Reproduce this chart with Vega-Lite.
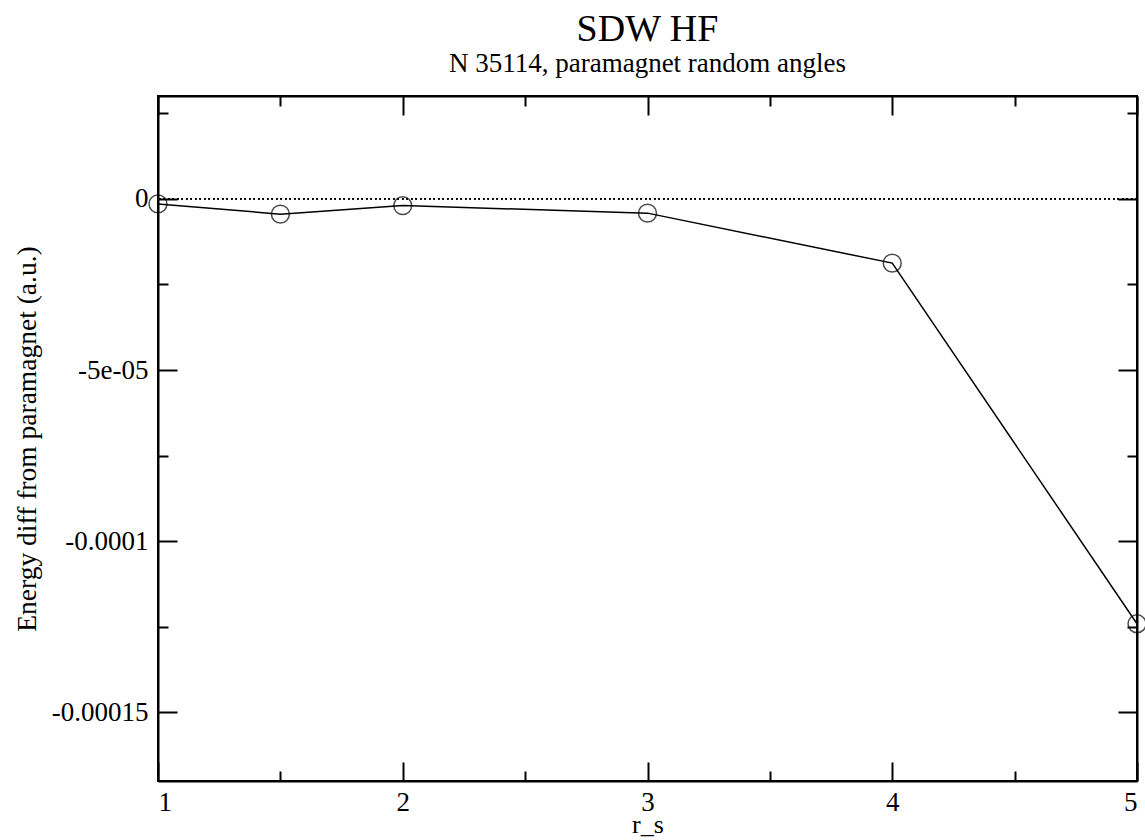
{
  "$schema": "https://vega.github.io/schema/vega-lite/v6.json",
  "width": 979,
  "height": 685,
  "autosize": {"type": "none"},
  "padding": {"left": 158, "top": 96, "right": 8, "bottom": 59},
  "background": "white",
  "title": {
    "text": "SDW HF",
    "subtitle": "N 35114, paramagnet random angles",
    "font": "Liberation Serif",
    "fontSize": 38,
    "fontWeight": "normal",
    "color": "black",
    "subtitleFont": "Liberation Serif",
    "subtitleFontSize": 27,
    "subtitleColor": "black",
    "subtitlePadding": 2,
    "anchor": "middle",
    "offset": 18
  },
  "data": {
    "values": [
      {"r_s": 1, "ediff": -0.0000015},
      {"r_s": 1.5, "ediff": -0.0000045},
      {"r_s": 2, "ediff": -0.000002},
      {"r_s": 3, "ediff": -0.0000042},
      {"r_s": 4, "ediff": -0.0000188},
      {"r_s": 5, "ediff": -0.0001241}
    ]
  },
  "resolve": {"axis": {"x": "independent", "y": "independent"}},
  "layer": [
    {
      "mark": {"type": "rule", "color": "black", "strokeWidth": 1.5, "strokeDash": [1.5, 3]},
      "encoding": {
        "y": {"datum": 0, "type": "quantitative", "scale": {"domain": [-0.00017, 0.00003]}, "axis": null}
      }
    },
    {
      "mark": {"type": "line", "color": "black", "strokeWidth": 1.5},
      "encoding": {
        "x": {
          "field": "r_s", "type": "quantitative",
          "scale": {"domain": [1, 5], "nice": false, "zero": false},
          "axis": {
            "orient": "bottom",
            "values": [1, 1.5, 2, 2.5, 3, 3.5, 4, 4.5, 5],
            "labelExpr": "datum.value % 1 === 0 ? format(datum.value, 'd') : ''",
            "tickSize": {"condition": {"test": "datum.value % 1 === 0", "value": -19}, "value": -10},
            "title": "r_s",
            "grid": false
          }
        },
        "y": {
          "field": "ediff", "type": "quantitative",
          "scale": {"domain": [-0.00017, 0.00003], "nice": false, "zero": false},
          "axis": {
            "orient": "left",
            "values": [0.000025, 0, -0.000025, -0.00005, -0.000075, -0.0001, -0.000125, -0.00015],
            "labelExpr": "abs(datum.value) < 1e-9 ? '0' : abs(datum.value + 0.00005) < 1e-9 ? '-5e-05' : abs(datum.value + 0.0001) < 1e-9 ? '-0.0001' : abs(datum.value + 0.00015) < 1e-9 ? '-0.00015' : ''",
            "tickSize": {"condition": {"test": "abs(datum.value / 0.00005 - round(datum.value / 0.00005)) < 1e-6", "value": -19}, "value": -10},
            "title": "Energy diff from paramagnet (a.u.)",
            "grid": false
          }
        }
      }
    },
    {
      "mark": {"type": "point", "shape": "circle", "filled": false, "color": "black", "strokeWidth": 1.5, "size": 320},
      "encoding": {
        "x": {
          "field": "r_s", "type": "quantitative",
          "axis": {
            "orient": "top",
            "values": [1, 1.5, 2, 2.5, 3, 3.5, 4, 4.5, 5],
            "labels": false,
            "title": null,
            "tickSize": {"condition": {"test": "datum.value % 1 === 0", "value": -19}, "value": -10},
            "grid": false
          }
        },
        "y": {
          "field": "ediff", "type": "quantitative",
          "axis": {
            "orient": "right",
            "values": [0.000025, 0, -0.000025, -0.00005, -0.000075, -0.0001, -0.000125, -0.00015],
            "labels": false,
            "title": null,
            "tickSize": {"condition": {"test": "abs(datum.value / 0.00005 - round(datum.value / 0.00005)) < 1e-6", "value": -19}, "value": -10},
            "grid": false
          }
        }
      }
    }
  ],
  "config": {
    "font": "Liberation Serif",
    "view": {"stroke": "black", "strokeWidth": 2},
    "title": {"font": "Liberation Serif", "subtitleFont": "Liberation Serif"},
    "axis": {
      "domainColor": "black",
      "domainWidth": 2,
      "tickColor": "black",
      "tickWidth": 2,
      "labelFont": "Liberation Serif",
      "labelFontSize": 27,
      "labelColor": "black",
      "titleFont": "Liberation Serif",
      "titleFontSize": 27.5,
      "titleFontWeight": "normal",
      "titleColor": "black"
    },
    "axisX": {"labelPadding": 27, "titlePadding": -4, "titleFontSize": 26},
    "axisY": {"labelPadding": 29, "titlePadding": 10}
  }
}
